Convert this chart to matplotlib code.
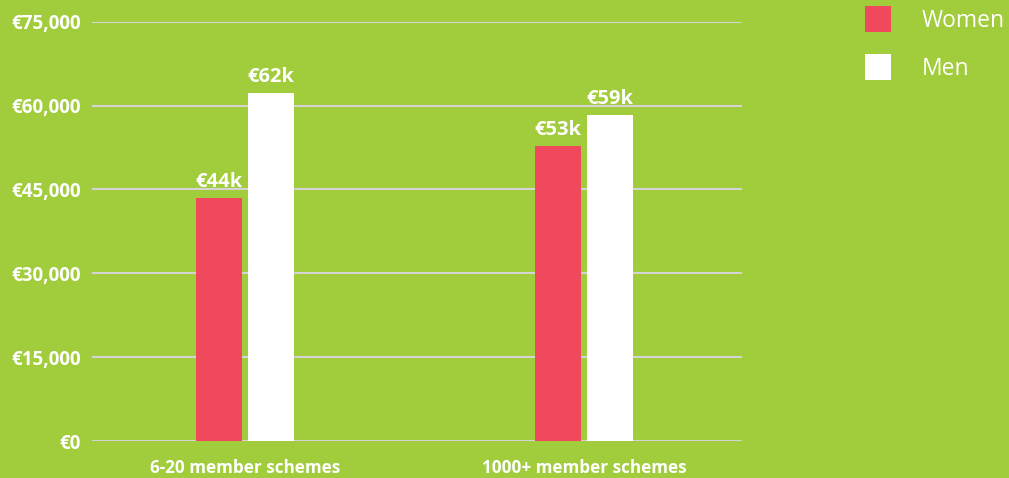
import matplotlib.pyplot as plt
import numpy as np

# data
groups = ["6-20 member schemes", "1000+ member schemes"]
women = [43500, 52800]
men = [62300, 58400]
women_labels = ["€44k", "€53k"]
men_labels = ["€62k", "€59k"]
yticks = [0, 15000, 30000, 45000, 60000, 75000]

bg = "#a1cc3b"
red = "#f0485c"

plt.rcParams['font.family'] = ['Open Sans', 'DejaVu Sans']

fig = plt.figure(figsize=(10.09, 4.78), dpi=100, facecolor=bg)
ax = fig.add_axes([0.0912, 0.0774, 0.6442, 0.8772], facecolor=bg)

x = np.arange(len(groups))
w = 0.136
off = 0.077
b1 = ax.bar(x - off, women, w, color=red, label="Women", zorder=3)
b2 = ax.bar(x + off, men, w, color="white", label="Men", zorder=3)

for bars, labs in [(b1, women_labels), (b2, men_labels)]:
    for r, lab in zip(bars, labs):
        ax.annotate(lab, (r.get_x() + r.get_width() / 2, r.get_height()),
                    xytext=(0, 4), textcoords="offset points",
                    ha="center", va="bottom", color="white",
                    fontsize=14.5, fontweight="bold")

ax.set_ylim(0, 75000)
ax.set_xlim(-0.451, 1.466)
ax.set_yticks(yticks)
ax.set_yticklabels(["€{:,}".format(v) for v in yticks])
ax.set_xticks(x)
ax.set_xticklabels(groups)
for lab in ax.get_yticklabels():
    lab.set_color("white")
    lab.set_fontweight("bold")
    lab.set_fontsize(13.5)
for lab in ax.get_xticklabels():
    lab.set_color("white")
    lab.set_fontweight("bold")
    lab.set_fontsize(12.3)
ax.tick_params(length=0)
ax.tick_params(axis="y", pad=8)
ax.tick_params(axis="x", pad=13)
ax.grid(axis="y", color="#d4d4d4", linewidth=1.5, zorder=0)
for s in ax.spines.values():
    s.set_visible(False)

fig.legend(loc="upper left", bbox_to_anchor=(0.857, 0.987), frameon=False,
           fontsize=16.5, labelcolor="white", handlelength=1.13,
           handleheight=1.34, handletextpad=1.35, labelspacing=0.94,
           borderpad=0, borderaxespad=0)

fig.savefig("out.png", dpi=100, facecolor=bg)
